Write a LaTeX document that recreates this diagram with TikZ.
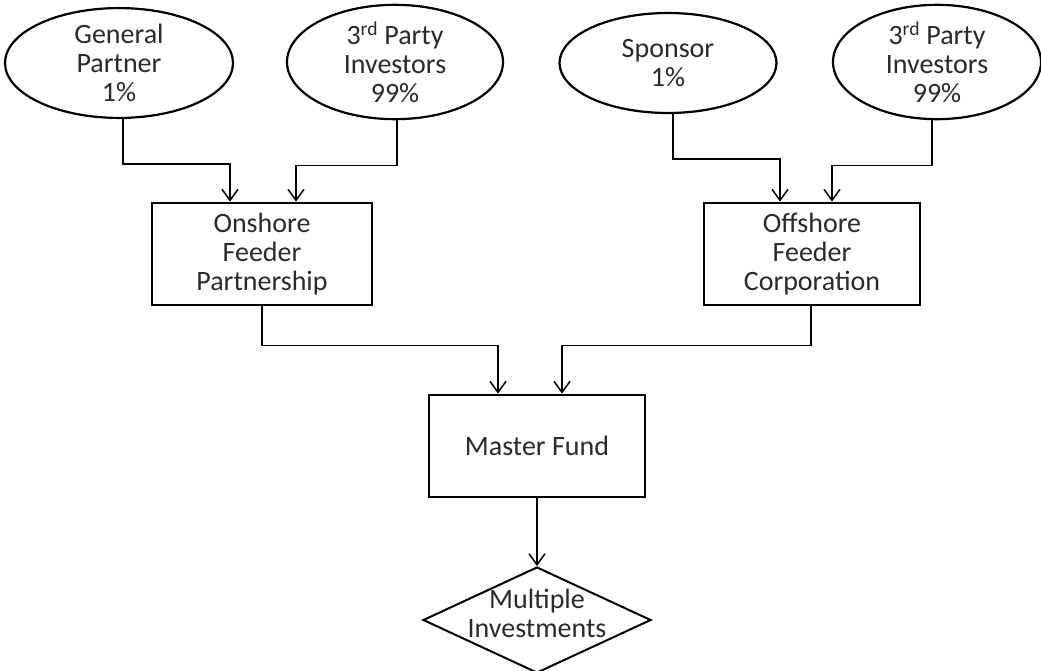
\documentclass[tikz,border=0pt]{standalone}
\usepackage{fontspec}
\setmainfont{Carlito}
\usetikzlibrary{arrows.meta,shapes.geometric}
\definecolor{txt}{HTML}{2A2A2A}
\tikzset{
  lbl/.style={font=\fontsize{28}{29}\selectfont, text=txt, align=center},
  oval/.style={lbl, ellipse, draw, line width=2.2pt, minimum height=100pt, inner sep=0pt},
  box/.style={lbl, rectangle, draw, line width=2.8pt, minimum width=216pt, minimum height=102pt, inner sep=0pt},
  conn/.style={line width=1.5pt, -{Straight Barb[length=11pt,width=16pt,line width=1.5pt]}},
}
\begin{document}
\begin{tikzpicture}[x=1pt,y=-1pt]
\useasboundingbox (0,0) rectangle (1041,670);
\fill[white] (0,0) rectangle (1041,670);

\node[oval, minimum width=228pt] (gp) at (119,63) {General\\Partner\\1\%};
\node[oval, minimum width=216pt] (tpl) at (395,62) {3\textsuperscript{rd} Party\\Investors\\99\%};
\node[oval, minimum width=217pt] (sp) at (668,63) {Sponsor\\1\%};
\node[oval, minimum width=208pt] (tpr) at (937,62) {3\textsuperscript{rd} Party\\Investors\\99\%};

\node[box, minimum width=220pt] (on) at (262,254) {Onshore\\Feeder\\Partnership};
\node[box] (off) at (812,254) {Offshore\\Feeder\\Corporation};
\node[box] (mf) at (537,446) {Master Fund};

\node[diamond, draw, line width=2pt, minimum width=228pt, minimum height=106pt, inner sep=0pt] (mi) at (537,620) {};
\node[lbl] (mit) at (537,613) {Multiple\\Investments};

\draw[conn] ([xshift=4pt]gp.south) -- ++(0,45) -| ([xshift=-32pt]on.north);
\draw[conn] ([xshift=2pt]tpl.south) -- ++(0,45) -| ([xshift=34pt]on.north);
\draw[conn] ([xshift=5pt]sp.south) -- ++(0,45) -| ([xshift=-32pt]off.north);
\draw[conn] ([xshift=-5pt]tpr.south) -- ++(0,45) -| ([xshift=20pt]off.north);

\draw[conn] (on.south) -- ++(0,39) -| ([xshift=-39pt]mf.north);
\draw[conn] ([xshift=-1pt]off.south) -- ++(0,39) -| ([xshift=25pt]mf.north);

\draw[conn] (mf.south) -- (mi.north);
\end{tikzpicture}
\end{document}
